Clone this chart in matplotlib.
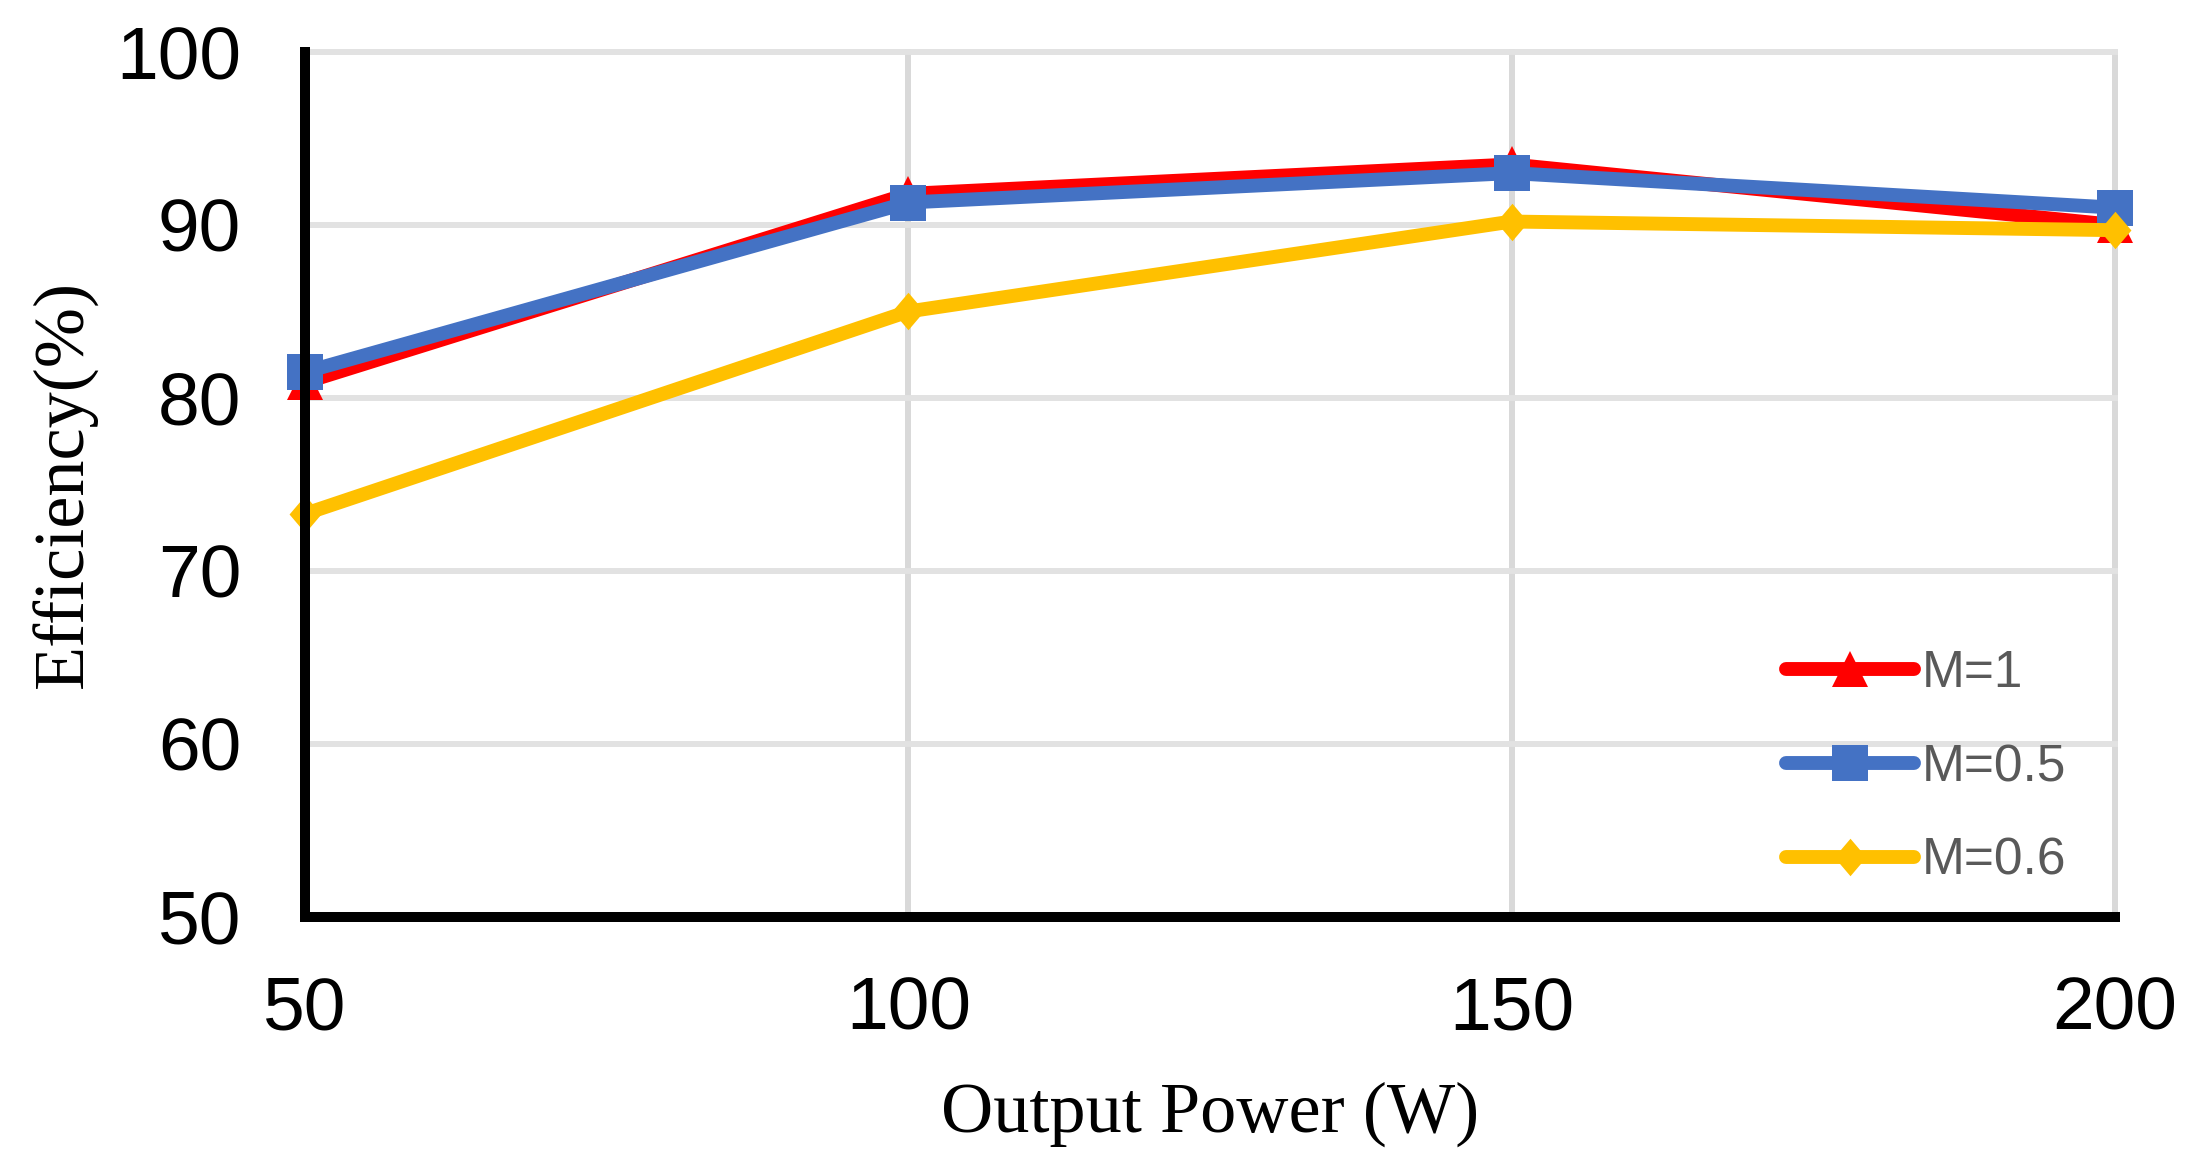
import matplotlib.pyplot as plt
from matplotlib.path import Path

# data
power = [50, 100, 150, 200]
eff_m1 = [80.9, 91.8, 93.5, 90.0]
eff_m05 = [81.5, 91.3, 93.0, 91.0]
eff_m06 = [73.3, 85.0, 90.2, 89.7]
labels = ["M=1", "M=0.5", "M=0.6"]
colors = ["#FF0000", "#4472C4", "#FFC000"]

# diamond a bit narrower than tall, like the excel marker
diamond = Path([(0, 1), (0.85, 0), (0, -1), (-0.85, 0), (0, 1)],
               [Path.MOVETO, Path.LINETO, Path.LINETO, Path.LINETO, Path.CLOSEPOLY])

fig = plt.figure(figsize=(21.97, 11.66), dpi=100)
ax = fig.add_axes([0.1388, 0.2136, 0.9627 - 0.1388, 0.9554 - 0.2136])

series = [(eff_m1, "^", 26), (eff_m05, "s", 26), (eff_m06, diamond, 27)]
for (vals, mk, ms), lab, col in zip(series, labels, colors):
    ax.plot(power, vals, color=col, lw=10, marker=mk, markersize=ms,
            markeredgewidth=0, label=lab, solid_capstyle="round",
            solid_joinstyle="round", clip_on=False)

ax.set_xlim(50, 200)
ax.set_ylim(50, 100)
ax.set_xticks(power)
ax.set_yticks([50, 60, 70, 80, 90, 100])

ax.xaxis.grid(True, color="#d9d9d9", lw=4.3)
ax.yaxis.grid(True, color="#e2e2e2", lw=4.3)
ax.set_axisbelow(True)
for gl in ax.get_xgridlines() + ax.get_ygridlines():
    gl.set_clip_on(False)

for s in ["top", "right"]:
    ax.spines[s].set_visible(False)
for s in ["left", "bottom"]:
    ax.spines[s].set_linewidth(7.2)
    ax.spines[s].set_color("black")

ax.tick_params(axis="both", length=0, labelsize=54, labelcolor="black")
ax.tick_params(axis="x", pad=42)
ax.tick_params(axis="y", pad=46)
for t in ax.get_xticklabels() + ax.get_yticklabels():
    t.set_family("Liberation Sans")

ax.set_xlabel("Output Power (W)", family="Liberation Serif", fontsize=52, labelpad=27)
ax.set_ylabel("Efficiency(%)", family="Liberation Serif", fontsize=52, labelpad=13)

leg = ax.legend(loc="lower left", bbox_to_anchor=(0.818, 0.036), frameon=False,
                prop={"family": "Liberation Sans", "size": 37},
                handlelength=2.5, handletextpad=0.15, labelspacing=0.87,
                borderpad=0, borderaxespad=0)
for t in leg.get_texts():
    t.set_color("#595959")

fig.savefig("out.png", dpi=100)
